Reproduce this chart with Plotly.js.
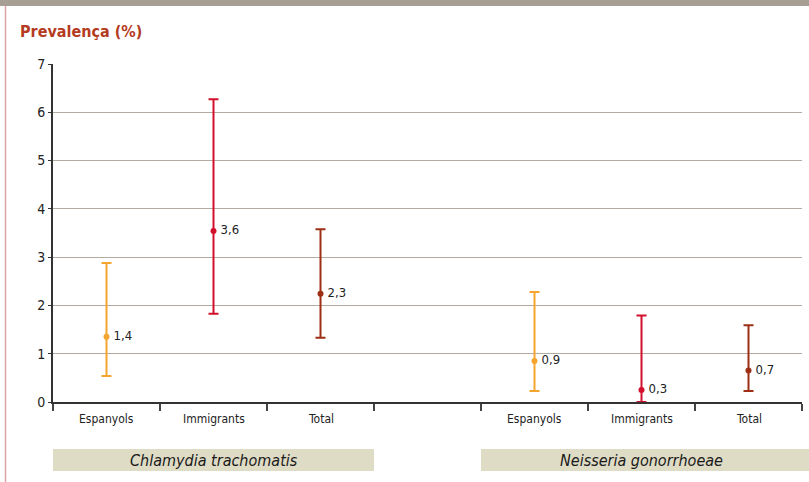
<!DOCTYPE html>
<html>
<head>
<meta charset="utf-8">
<script src="https://cdn.plot.ly/plotly-3.0.1.min.js"></script>
<style>
html,body{margin:0;padding:0;background:#fff;}
#chart{width:809px;height:482px;}
</style>
</head>
<body>
<div id="chart"></div>
<script>
// Data
const categories = ["Espanyols", "Immigrants", "Total", "", "Espanyols", "Immigrants", "Total"];
const groups = ["Chlamydia trachomatis", "Neisseria gonorrhoeae"];
const seriesNames = ["Espanyols", "Immigrants", "Total"];
// per series: [Chlamydia, Neisseria]
const espValues = [1.35, 0.85];
const espUpper  = [2.88, 2.28];
const espLower  = [0.54, 0.23];
const espLabels = ["1,4", "0,9"];
const immValues = [3.54, 0.25];
const immUpper  = [6.27, 1.79];
const immLower  = [1.83, 0.0];
const immLabels = ["3,6", "0,3"];
const totValues = [2.24, 0.65];
const totUpper  = [3.58, 1.59];
const totLower  = [1.33, 0.23];
const totLabels = ["2,3", "0,7"];
const yTicks = [0, 1, 2, 3, 4, 5, 6, 7];

const FONT = '"Liberation Sans Narrow", "DejaVu Sans Condensed", "Roboto", sans-serif';

const seriesData = [
  {name: seriesNames[0], v: espValues, u: espUpper, l: espLower, t: espLabels, color: '#f5a52f', pos: 0},
  {name: seriesNames[1], v: immValues, u: immUpper, l: immLower, t: immLabels, color: '#d2102c', pos: 1},
  {name: seriesNames[2], v: totValues, u: totUpper, l: totLower, t: totLabels, color: '#9c2f14', pos: 2}
];

const traces = seriesData.map(s => ({
  type: 'scatter',
  mode: 'markers+text',
  name: s.name,
  x: [s.pos + 0.5, s.pos + 4.5],
  y: s.v,
  text: s.t.map(t => '\u2009' + t),
  textposition: 'middle right',
  textfont: {family: FONT, size: 13, color: '#222'},
  marker: {color: s.color, size: 6},
  cliponaxis: false,
  error_y: {
    type: 'data', symmetric: false,
    array: s.u.map((u, i) => u - s.v[i]),
    arrayminus: s.v.map((v, i) => v - s.l[i]),
    color: s.color, thickness: 2, width: 5
  },
  hoverinfo: 'x+y'
}));

// pixel helpers for decorations (plot area: x 53..802, y 64..402)
const pxX = p => (p - 53) / 749;
const pxY = p => (402 - p) / 338;

const annotations = categories.map((c, i) => ({
  x: i + 0.5, xref: 'x', y: pxY(419), yref: 'paper',
  text: c, showarrow: false,
  font: {family: FONT, size: 12, color: '#222'},
  xanchor: 'center', yanchor: 'middle'
}));
annotations.push({
  x: 1.5, xref: 'x', y: pxY(460), yref: 'paper', text: '<i>' + groups[0] + '</i>',
  showarrow: false, font: {family: FONT, size: 16, color: '#1a1a1a'}, xanchor: 'center', yanchor: 'middle'
});
annotations.push({
  x: 5.5, xref: 'x', y: pxY(460), yref: 'paper', text: '<i>' + groups[1] + '</i>',
  showarrow: false, font: {family: FONT, size: 16, color: '#1a1a1a'}, xanchor: 'center', yanchor: 'middle'
});

const shapes = [
  // top band
  {type: 'rect', xref: 'paper', yref: 'paper', x0: pxX(0), x1: pxX(809), y0: pxY(6), y1: pxY(0),
   fillcolor: '#a79f93', line: {width: 0}, layer: 'below'},
  // left border line
  {type: 'line', xref: 'paper', yref: 'paper', x0: pxX(5.5), x1: pxX(5.5), y0: pxY(482), y1: pxY(6),
   line: {color: '#dba3a8', width: 1.5}},
  // group boxes
  {type: 'rect', xref: 'paper', yref: 'paper', x0: 0, x1: 3/7, y0: pxY(471), y1: pxY(449),
   fillcolor: '#dfdcc6', line: {width: 0}, layer: 'below'},
  {type: 'rect', xref: 'paper', yref: 'paper', x0: 4/7, x1: pxX(809), y0: pxY(471), y1: pxY(449),
   fillcolor: '#dfdcc6', line: {width: 0}, layer: 'below'}
];

const layout = {
  width: 809, height: 482,
  margin: {l: 53, r: 7, t: 64, b: 80, pad: 0},
  paper_bgcolor: '#fff', plot_bgcolor: '#fff',
  showlegend: false,
  title: {text: '<b>Prevalença (%)</b>', x: 20/809, xanchor: 'left', xref: 'container',
          y: 1 - 31/482, yanchor: 'middle', yref: 'container',
          font: {family: FONT, size: 16, color: '#b53b1f'}},
  xaxis: {
    range: [0, 7], tickvals: yTicks, showticklabels: false,
    ticks: 'outside', ticklen: 7, tickwidth: 2, tickcolor: '#444',
    showline: true, linecolor: '#333', linewidth: 2,
    showgrid: false, zeroline: false, fixedrange: true
  },
  yaxis: {
    range: [0, 7], tickvals: yTicks,
    ticks: 'outside', ticklen: 3, tickwidth: 1, tickcolor: '#333',
    tickfont: {family: FONT, size: 14, color: '#222'},
    showline: true, linecolor: '#333', linewidth: 2,
    showgrid: true, gridcolor: '#b3ab9f', gridwidth: 1,
    zeroline: false, fixedrange: true
  },
  annotations: annotations,
  shapes: shapes
};

Plotly.newPlot('chart', traces, layout, {displayModeBar: false, staticPlot: true});
</script>
</body>
</html>
